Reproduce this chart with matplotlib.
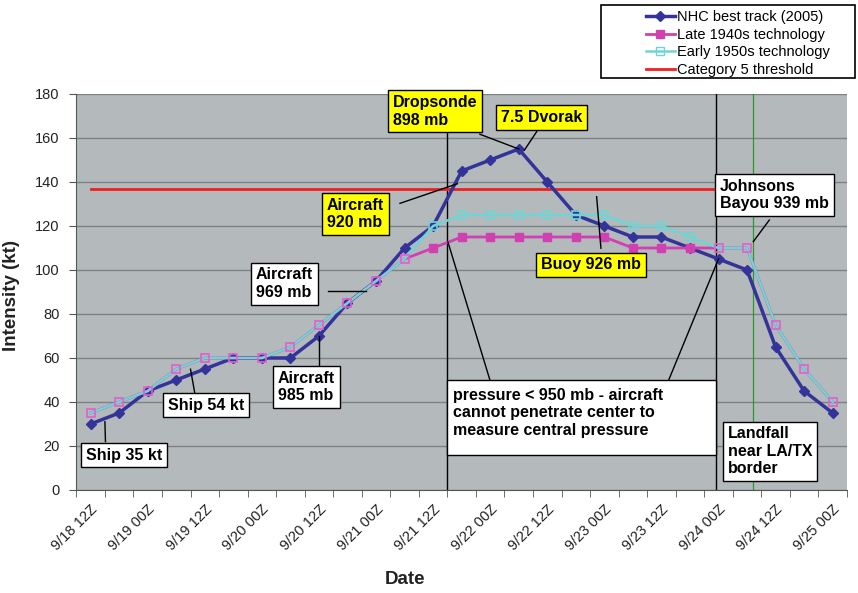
import numpy as np
import matplotlib
matplotlib.use("Agg")
import matplotlib.pyplot as plt
from matplotlib.lines import Line2D
from matplotlib.patches import Rectangle

plt.rcParams['font.family'] = ['Liberation Sans', 'DejaVu Sans']

# times every 6 h, 9/18 12Z .. 9/25 00Z
times = ['9/18 12Z', '9/18 18Z', '9/19 00Z', '9/19 06Z', '9/19 12Z', '9/19 18Z',
         '9/20 00Z', '9/20 06Z', '9/20 12Z', '9/20 18Z', '9/21 00Z', '9/21 06Z',
         '9/21 12Z', '9/21 18Z', '9/22 00Z', '9/22 06Z', '9/22 12Z', '9/22 18Z',
         '9/23 00Z', '9/23 06Z', '9/23 12Z', '9/23 18Z', '9/24 00Z', '9/24 06Z',
         '9/24 12Z', '9/24 18Z', '9/25 00Z']

nhc_best = [30, 35, 45, 50, 55, 60, 60, 60, 70, 85, 95, 110, 120, 145, 150, 155,
            140, 125, 120, 115, 115, 110, 105, 100, 65, 45, 35]
late_1940s = [35, 40, 45, 55, 60, 60, 60, 65, 75, 85, 95, 105, 110, 115, 115, 115,
              115, 115, 115, 110, 110, 110, 110, 110, 75, 55, 40]
early_1950s = [35, 40, 45, 55, 60, 60, 60, 65, 75, 85, 95, 105, 120, 125, 125, 125,
               125, 125, 125, 120, 120, 115, 110, 110, 75, 55, 40]
cat5 = 137            # kt
cat5_end = 22         # index where threshold line stops
no_pen_start = 12.5   # aircraft cannot penetrate (start)
no_pen_end = 21.9     # (end)
landfall = 23.22      # 9/24 ~07Z

x = np.arange(len(times))
nhc = np.array(nhc_best)
l40 = np.array(late_1940s)
e50 = np.array(early_1950s)
same = np.isclose(l40, e50)

blue = '#333399'
mag = '#d040b0'
cyan = '#70d4d4'
pink = '#e060d0'
red = '#f02020'

fig = plt.figure(figsize=(8.58, 5.93), dpi=100)
ax = fig.add_axes([0.089, 0.1737, 0.8981, 0.6678])
ax.set_facecolor('#b4b9bc')

ax.set_xlim(-0.5, len(times) - 0.5)
ax.set_ylim(0, 180)
ax.set_yticks(np.arange(0, 181, 20))
ax.yaxis.grid(True, color='#7c8184', lw=1)
ax.set_axisbelow(True)
for s in ['top', 'right']:
    ax.spines[s].set_visible(False)
for s in ['left', 'bottom']:
    ax.spines[s].set_color('#555555')

ax.set_xticks(x[::2])
ax.set_xticklabels(times[::2], rotation=45, ha='right', rotation_mode='anchor',
                   fontsize=10.5, color='#222222')
ax.set_xticks(np.arange(-0.5, len(times)), minor=True)
ax.tick_params(axis='x', which='major', length=0, pad=9)
ax.tick_params(axis='x', which='minor', length=5, color='#555555', direction='out')
ax.tick_params(axis='y', length=5, color='#555555', pad=7, labelsize=10.5,
               labelcolor='#222222')

ax.set_ylabel('Intensity (kt)', fontsize=13.5, fontweight='bold', color='#222222')
ax.yaxis.set_label_coords(-0.073, 0.49)
ax.set_xlabel('Date', fontsize=13.5, fontweight='bold', color='#222222', va='center')
ax.xaxis.set_label_coords(0.4264, -0.227)

# vertical markers
ax.axvline(no_pen_start, color='black', lw=1, zorder=1.5)
ax.axvline(no_pen_end, color='black', lw=1, zorder=1.5)
ax.axvline(landfall, color='#2a9a2a', lw=0.9, zorder=1.5)

# series
ax.plot(x[:cat5_end + 1], [cat5] * (cat5_end + 1), color=red, lw=2, zorder=2)
ax.plot(x, nhc, color=blue, lw=2.5, marker='D', ms=5, zorder=3)
ax.plot(x, l40, color=mag, lw=2, zorder=4)
ax.plot(x[~same], l40[~same], ls='none', marker='s', ms=6, color=mag, zorder=4.1)
ax.plot(x, e50, color=cyan, lw=1.8, zorder=4.5)
ax.plot(x[~same], e50[~same], ls='none', marker='s', ms=6, mfc='none', mec=cyan,
        mew=1.2, zorder=4.6)
ax.plot(x[same], e50[same], ls='none', marker='s', ms=6, mfc='none', mec=pink,
        mew=1.2, zorder=4.6)

# callouts
fs = 11.5
white_box = dict(boxstyle='square,pad=0.3', fc='white', ec='black', lw=1)
yellow_box = dict(boxstyle='square,pad=0.3', fc='#ffff00', ec='black', lw=1)


def line(x0, y0, x1, y1):
    ax.plot([x0, x1], [y0, y1], color='black', lw=1, zorder=5)


def label(tx, ty, s, box):
    ax.text(tx, ty, s, fontsize=fs, fontweight='bold', ha='left', va='center',
            bbox=box, zorder=6)


label(-0.16, 15.9, 'Ship 35 kt', white_box)
line(0.52, 22, 0.50, 31)
label(2.71, 38.6, 'Ship 54 kt', white_box)
line(3.65, 44, 3.5, 54.9)
label(5.79, 93.8, 'Aircraft\n969 mb', white_box)
line(8.33, 90.6, 9.65, 90.6)
label(6.56, 46.8, 'Aircraft\n985 mb', white_box)
line(8, 56.8, 8, nhc[8])
label(8.28, 125.5, 'Aircraft\n920 mb', yellow_box)
line(10.84, 130.3, 12.85, 139.2)
label(10.58, 172.1, 'Dropsonde\n898 mb', yellow_box)
line(13.64, 161.7, 15, nhc[15])
label(14.38, 169.3, '7.5 Dvorak', yellow_box)
line(15.63, 162.9, 15.2, 154.5)
label(15.78, 102.3, 'Buoy 926 mb', yellow_box)
line(17.88, 109.9, 17.73, 133.3)
label(22.05, 134.2, 'Johnsons\nBayou 939 mb', white_box)
line(23.78, 122.7, 23.22, 112.9)
label(22.32, 17.6, 'Landfall\nnear LA/TX\nborder', white_box)

# no-penetration box
ax.add_patch(Rectangle((no_pen_start, 15.9), no_pen_end - no_pen_start, 34.1,
                       fc='white', ec='black', lw=1, zorder=5.5))
ax.text(12.69, 35.1, 'pressure < 950 mb - aircraft\ncannot penetrate center to\n'
        'measure central pressure', fontsize=fs, fontweight='bold', ha='left',
        va='center', zorder=6)
line(12.52, 112.7, 13.99, 50)
line(20.23, 49.2, 22, nhc[22])

# legend
fig.patches.append(Rectangle((0.7005, 0.8685), 0.296, 0.1231, transform=fig.transFigure,
                             fill=False, ec='black', lw=1.2))
handles = [
    Line2D([], [], color=blue, lw=2.5, marker='D', ms=5),
    Line2D([], [], color=mag, lw=2, marker='s', ms=6),
    Line2D([], [], color=cyan, lw=1.8, marker='s', ms=6, mfc='none', mec=cyan),
    Line2D([], [], color=red, lw=2),
]
names = ['NHC best track (2005)', 'Late 1940s technology', 'Early 1950s technology',
         'Category 5 threshold']
fig.legend(handles, names, loc='upper left', bbox_to_anchor=(0.744, 0.995),
           frameon=False, fontsize=10.5, borderpad=0, labelspacing=0.24,
           handlelength=2.0, handletextpad=0.15)

fig.savefig('out.png', dpi=100)
